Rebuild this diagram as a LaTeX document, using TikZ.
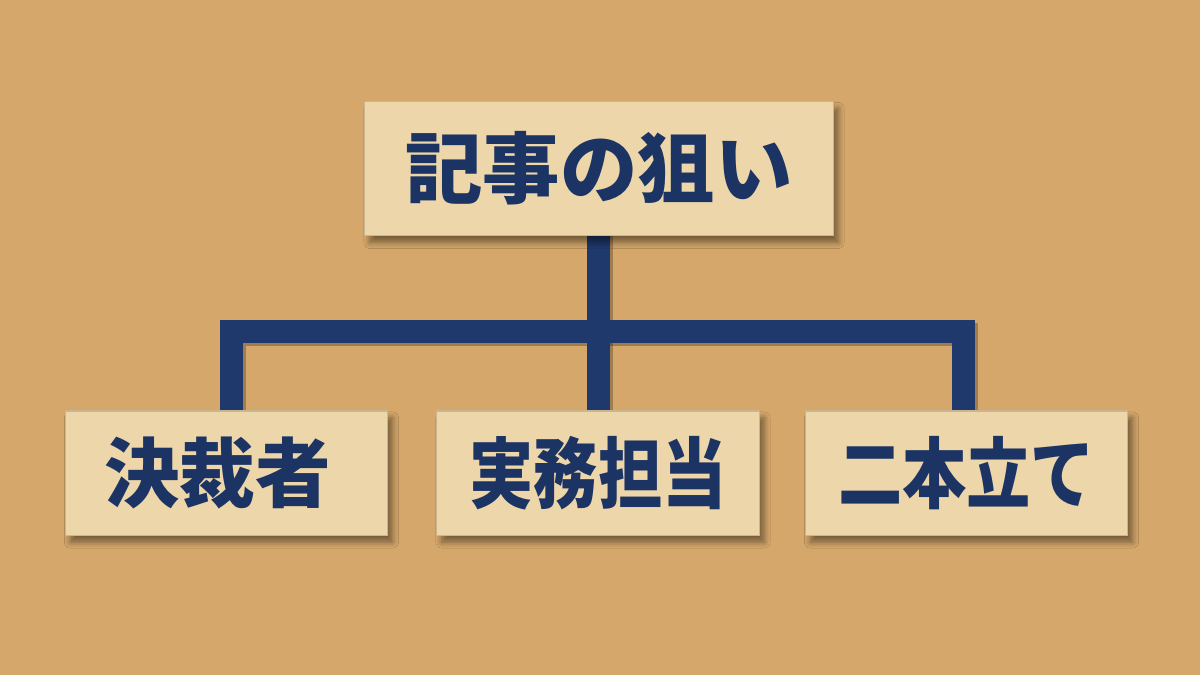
\documentclass[tikz,border=0pt]{standalone}
\usepackage{fontspec}
\usepackage{graphicx}
\newfontfamily\jpfont{Noto Sans CJK JP}
\usetikzlibrary{shadows.blur}
\definecolor{kraft}{RGB}{213,167,106}
\definecolor{card}{RGB}{236,214,170}
\definecolor{navy}{RGB}{31,57,108}
\definecolor{ink}{RGB}{28,52,100}
\tikzset{
  card/.style={fill=card, draw=card!85!black, line width=0.3pt, inner sep=0pt,
    blur shadow={shadow xshift=0.05cm, shadow yshift=-0.07cm, shadow blur steps=6, shadow opacity=45}},
  topcard/.style={card, minimum width=4.68cm, minimum height=1.34cm,
    font=\jpfont\bfseries\fontsize{22pt}{22pt}\selectfont, text=ink},
  subcard/.style={card, minimum width=3.22cm, minimum height=1.24cm,
    font=\jpfont\bfseries\fontsize{22pt}{22pt}\selectfont, text=ink},
  conn/.style={draw=navy, line width=0.23cm, line join=miter, line cap=rect},
  connshadow/.style={draw=black, opacity=0.25, line width=0.23cm, line join=miter, line cap=rect,
    transform canvas={shift={(0.025cm,-0.03cm)}}}
}
\newcommand{\narrow}[1]{\scalebox{0.83}[1]{#1}}
\begin{document}
\begin{tikzpicture}[x=0.01cm, y=-0.01cm]
\fill[kraft] (0,0) rectangle (1200,675);
\useasboundingbox (0,0) rectangle (1200,675);
% connector junction points
\coordinate (jl) at (231.5,331.5);
\coordinate (jr) at (963.5,331.5);
\coordinate (jt) at (598.5,236);
\coordinate (jb) at (598.5,411);
% connectors (under the cards)
\draw[connshadow] (231.5,411) -- (jl) -- (jr) -- (963.5,411);
\draw[connshadow] (jt) -- (jb);
\draw[conn] (231.5,411) -- (jl) -- (jr) -- (963.5,411);
\draw[conn] (jt) -- (jb);
% cards
\node[topcard] (top) at (599,168.5) {記事の狙い};
\node[subcard] (left) at (226.5,473) {};
\node[subcard] (mid) at (598,473) {\narrow{実務担当}};
\node[subcard] (right) at (966.5,473) {\narrow{二本立て}};
\node[font=\jpfont\bfseries\fontsize{21.5pt}{21.5pt}\selectfont, text=ink, inner sep=0pt]
  (lefttext) at ([xshift=-0.09cm]left.center) {決裁者};
\end{tikzpicture}
\end{document}
